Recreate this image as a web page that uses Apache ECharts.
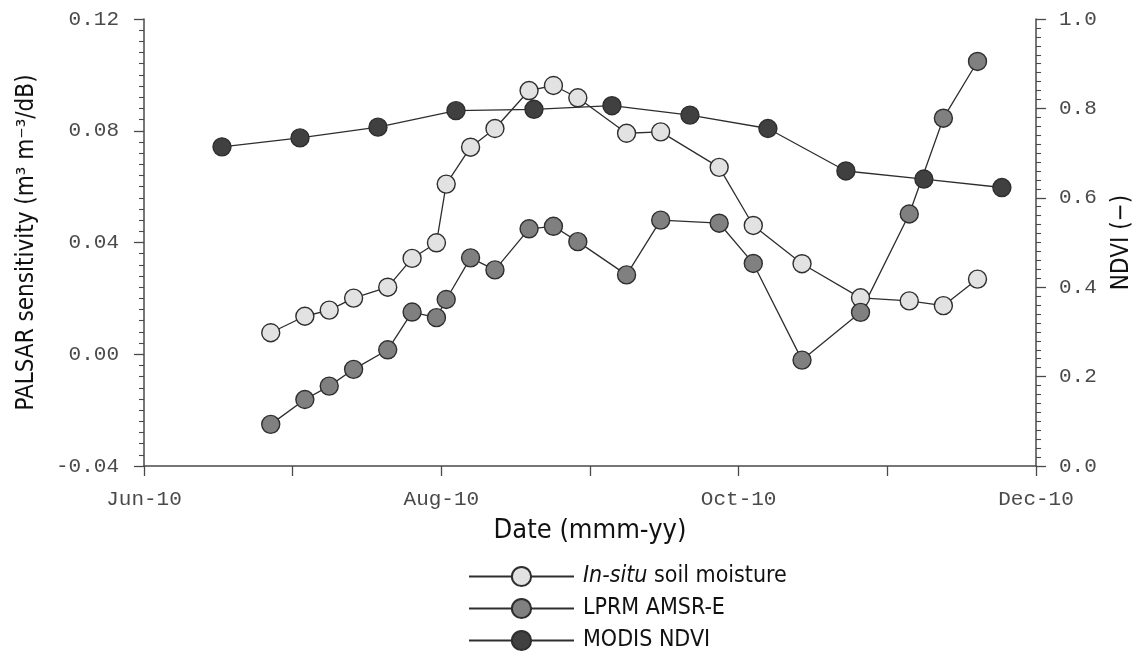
<!DOCTYPE html>
<html>
<head>
<meta charset="utf-8">
<script src="https://cdn.jsdelivr.net/npm/echarts@6/dist/echarts.min.js"></script>
<style>
html,body{margin:0;padding:0;background:#fff;}
#chart{width:1142px;height:657px;}
</style>
</head>
<body>
<div id="chart"></div>
<script>
// ---- data ----
const axisStart = '2010-06-01';
const monthTickLabels = ['Jun-10', '', 'Aug-10', '', 'Oct-10', '', 'Dec-10'];

const palsarDates = ['2010-06-27','2010-07-04','2010-07-09','2010-07-14','2010-07-21','2010-07-26',
  '2010-07-31','2010-08-02','2010-08-07','2010-08-12','2010-08-19','2010-08-24','2010-08-29',
  '2010-09-08','2010-09-15','2010-09-27','2010-10-04','2010-10-14','2010-10-26','2010-11-05',
  '2010-11-12','2010-11-19'];
const insituValues = [0.0077,0.0136,0.0158,0.0201,0.0240,0.0343,0.0399,0.0609,0.0741,0.0808,
  0.0944,0.0962,0.0918,0.0791,0.0796,0.0669,0.0461,0.0324,0.0202,0.0191,0.0174,0.0269];
const lprmValues = [-0.0251,-0.0162,-0.0114,-0.0054,0.0016,0.0151,0.0131,0.0196,0.0345,0.0302,
  0.0449,0.0458,0.0403,0.0284,0.0480,0.0469,0.0325,-0.0021,0.0150,0.0502,0.0845,0.1048];

const ndviDates = ['2010-06-17','2010-07-03','2010-07-19','2010-08-04','2010-08-20','2010-09-05',
  '2010-09-21','2010-10-07','2010-10-23','2010-11-08','2010-11-24'];
const ndviValues = [0.714,0.734,0.758,0.795,0.798,0.806,0.785,0.755,0.660,0.642,0.623];

const seriesNames = ['In-situ soil moisture', 'LPRM AMSR-E', 'MODIS NDVI'];

// ---- helpers ----
function dayOffset(d) {
  return (Date.parse(d) - Date.parse(axisStart)) / 86400000;
}
function pairs(dates, vals) {
  return dates.map((d, i) => [dayOffset(d), vals[i]]);
}

const tickFont = { fontFamily: 'Liberation Mono', fontSize: 21, color: '#4a4a4a' };
const titleFont = 'DejaVu Sans Condensed, DejaVu Sans, sans-serif';
const axisColor = '#4a4a4a';
const lineColor = '#2e2e2e';

function mkSeries(name, data, fill, yIdx) {
  return {
    name: name, type: 'line', data: data, yAxisIndex: yIdx,
    symbol: 'circle', symbolSize: 18,
    lineStyle: { color: lineColor, width: 1.3 },
    itemStyle: { color: fill, borderColor: lineColor, borderWidth: 1.4 },
    emphasis: { disabled: true },
    animation: false
  };
}

const chart = echarts.init(document.getElementById('chart'), null, { renderer: 'canvas' });
chart.setOption({
  backgroundColor: '#fff',
  animation: false,
  grid: { left: 144, top: 19, width: 894, height: 447 },
  legend: {
    orient: 'vertical', left: 463, top: 560, height: 110,
    itemWidth: 105, itemHeight: 24, itemGap: 9,
    data: seriesNames,
    formatter: function (n) {
      if (n === seriesNames[0]) return '{i|In-situ} soil moisture';
      return n;
    },
    textStyle: {
      fontFamily: titleFont, fontSize: 23, color: '#111',
      padding: [0, 0, 0, 4],
      rich: { i: { fontFamily: titleFont, fontSize: 23, fontStyle: 'italic', color: '#111' } }
    }
  },
  xAxis: {
    type: 'value', min: 0, max: 183, interval: 30.5,
    name: 'Date (mmm-yy)', nameLocation: 'middle', nameGap: 51,
    nameTextStyle: { fontFamily: titleFont, fontSize: 27, color: '#111' },
    axisLine: { onZero: false, lineStyle: { color: axisColor, width: 1.5 } },
    axisTick: { show: true, length: 10, lineStyle: { color: axisColor, width: 1.3 } },
    axisLabel: Object.assign({
      margin: 23, showMinLabel: true, showMaxLabel: true,
      formatter: function (v) { return monthTickLabels[Math.round(v / 30.5)] || ''; }
    }, tickFont),
    splitLine: { show: false }
  },
  yAxis: [{
    type: 'value', min: -0.04, max: 0.12, interval: 0.04, position: 'left',
    name: 'PALSAR sensitivity (m³ m⁻³/dB)', nameLocation: 'middle', nameGap: 105, nameRotate: 90,
    nameTextStyle: { fontFamily: titleFont, fontSize: 24, color: '#111' },
    axisLine: { show: true, onZero: false, lineStyle: { color: axisColor, width: 1.5 } },
    axisTick: { show: true, length: 10, lineStyle: { color: axisColor, width: 1.3 } },
    minorTick: { show: true, splitNumber: 10, length: 5, lineStyle: { color: axisColor, width: 1.1 } },
    axisLabel: Object.assign({ margin: 25, formatter: function (v) { return v.toFixed(2); } }, tickFont),
    splitLine: { show: false }
  }, {
    type: 'value', min: 0, max: 1, interval: 0.2, position: 'right',
    name: 'NDVI (−)', nameLocation: 'middle', nameGap: 74, nameRotate: 90,
    nameTextStyle: { fontFamily: titleFont, fontSize: 24, color: '#111' },
    axisLine: { show: true, onZero: false, lineStyle: { color: axisColor, width: 1.5 } },
    axisTick: { show: true, length: 10, lineStyle: { color: axisColor, width: 1.3 } },
    minorTick: { show: true, splitNumber: 10, length: 5, lineStyle: { color: axisColor, width: 1.1 } },
    axisLabel: Object.assign({ margin: 23, formatter: function (v) { return v.toFixed(1); } }, tickFont),
    splitLine: { show: false }
  }],
  series: [
    mkSeries(seriesNames[0], pairs(palsarDates, insituValues), '#e2e2e2', 0),
    mkSeries(seriesNames[1], pairs(palsarDates, lprmValues), '#808080', 0),
    mkSeries(seriesNames[2], pairs(ndviDates, ndviValues), '#404040', 1)
  ]
});
</script>
</body>
</html>
